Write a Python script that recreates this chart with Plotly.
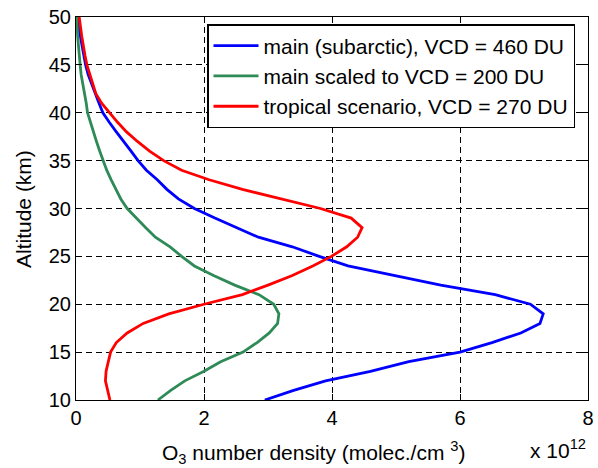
import plotly.graph_objects as go

# altitude grid (km)
altitude = [10, 11, 12, 13, 14, 15, 16, 17, 18, 19, 20, 21, 22, 23, 24, 25, 26, 27, 28, 29,
            30, 31, 32, 33, 34, 35, 36, 37, 38, 39, 40, 41, 42, 43, 44, 45, 46, 47, 48, 49, 50]

# O3 number density, units of 1e12 molec./cm^3
main_subarctic = [2.95, 3.40, 3.90, 4.60, 5.20, 6.00, 6.50, 6.95, 7.25, 7.30, 7.10, 6.55, 5.70, 4.95,
                  4.25, 3.80, 3.38, 2.85, 2.50, 2.17, 1.85, 1.60, 1.42, 1.27, 1.10, 0.97, 0.86, 0.74,
                  0.63, 0.52, 0.42, 0.36, 0.30, 0.24, 0.19, 0.15, 0.12, 0.09, 0.06, 0.04, 0.02]
main_scaled = [1.28, 1.48, 1.70, 2.00, 2.26, 2.61, 2.83, 3.02, 3.15, 3.17, 3.09, 2.86, 2.48, 2.15,
               1.85, 1.65, 1.47, 1.24, 1.09, 0.94, 0.80, 0.70, 0.62, 0.55, 0.48, 0.42, 0.37, 0.32,
               0.27, 0.23, 0.18, 0.16, 0.13, 0.10, 0.08, 0.065, 0.05, 0.04, 0.026, 0.017, 0.01]
tropical = [0.53, 0.49, 0.46, 0.47, 0.50, 0.54, 0.63, 0.80, 1.05, 1.45, 2.00, 2.60, 3.00, 3.38,
            3.70, 3.99, 4.23, 4.40, 4.47, 4.30, 3.82, 3.20, 2.60, 2.08, 1.65, 1.37, 1.15, 0.96,
            0.79, 0.65, 0.53, 0.40, 0.31, 0.26, 0.21, 0.17, 0.14, 0.11, 0.09, 0.07, 0.05]

names = ['main (subarctic), VCD = 460 DU',
         'main scaled to VCD = 200 DU',
         'tropical scenario, VCD = 270 DU']
colors = ['#0000ff', '#2e8b57', '#ff0000']

FONT = 'Liberation Sans, Arial, sans-serif'
L, R, T, B = 76, 10, 17, 68
W, H = 598, 468

fig = go.Figure()
for vals, name, col in zip([main_subarctic, main_scaled, tropical], names, colors):
    fig.add_trace(go.Scatter(x=vals, y=altitude, mode='lines', name=name,
                             line=dict(color=col, width=2.8)))

axis_style = dict(showline=True, linecolor='black', linewidth=1, mirror='ticks',
                  ticks='inside', ticklen=6, tickcolor='black', automargin=False,
                  showgrid=True, gridcolor='black', gridwidth=1, griddash='6px,4px',
                  zeroline=False, tickfont=dict(size=20, color='black', family=FONT))

fig.update_xaxes(range=[0, 8], dtick=2, **axis_style)
fig.update_yaxes(range=[10, 50], dtick=5, **axis_style)


def px(x, y):
    # pixel position -> paper coordinates
    return (x - L) / (W - L - R), 1 - (y - T) / (H - T - B)


xl = px(313, 452)
yl = px(24, 209)
ex = px(558, 449)
lg = px(575, 24)

fig.update_layout(
    width=W, height=H,
    margin=dict(l=L, r=R, t=T, b=B),
    plot_bgcolor='white', paper_bgcolor='white',
    font=dict(family=FONT, size=20, color='black'),
    showlegend=True,
    legend=dict(x=lg[0], y=lg[1], xanchor='right', yanchor='top',
                bgcolor='white', bordercolor='black', borderwidth=1.5,
                font=dict(size=21), tracegroupgap=0, itemwidth=45),
    annotations=[
        dict(text='O<sub>3</sub> number density (molec./cm <sup>3</sup>)',
             x=xl[0], y=xl[1], xanchor='center', yanchor='middle', font=dict(size=21)),
        dict(text='Altitude (km)', textangle=-90, x=yl[0], y=yl[1],
             xanchor='center', yanchor='middle', font=dict(size=21)),
        dict(text='x 10<sup>12</sup>', x=ex[0], y=ex[1],
             xanchor='center', yanchor='middle', font=dict(size=21)),
    ],
)
fig.update_annotations(xref='paper', yref='paper', showarrow=False)

fig.write_html("out.html", config={'displayModeBar': False},
               post_script="document.body.style.margin='0';document.body.style.overflow='hidden';")
